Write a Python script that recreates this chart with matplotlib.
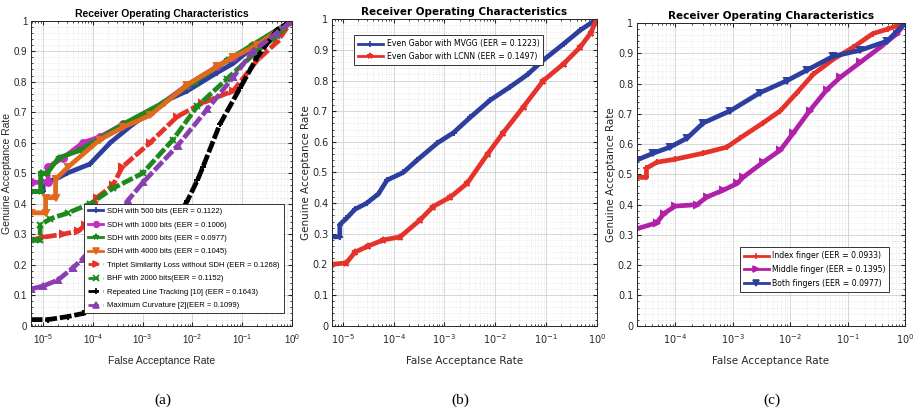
import numpy as np
import matplotlib
matplotlib.use("Agg")
import matplotlib.pyplot as plt
from matplotlib import font_manager
from matplotlib.ticker import LogLocator, MultipleLocator, NullFormatter

# ---- panel (a): log10(FAR) and GAR per curve ----
a_sdh500_x = [-5.25, -5.0, -5.0, -4.75, -4.52, -4.06, -3.65, -3.2, -2.85, -2.5, -2.1, -1.5, -1.18, -0.7, -0.3, 0.0]
a_sdh500_y = [0.44, 0.44, 0.47, 0.48, 0.50, 0.53, 0.60, 0.66, 0.70, 0.74, 0.77, 0.83, 0.86, 0.925, 0.96, 1.0]
a_sdh1000_x = [-5.25, -4.9, -4.9, -4.6, -4.2, -3.85, -3.4, -2.85, -2.1, -1.5, -1.18, -0.7, 0.0]
a_sdh1000_y = [0.47, 0.47, 0.52, 0.55, 0.60, 0.62, 0.66, 0.70, 0.79, 0.85, 0.88, 0.92, 1.0]
a_sdh2000_x = [-5.25, -5.05, -5.05, -4.92, -4.69, -4.26, -3.9, -3.4, -2.6, -1.95, -1.3, -0.8, 0.0]
a_sdh2000_y = [0.44, 0.44, 0.50, 0.50, 0.55, 0.575, 0.61, 0.66, 0.73, 0.80, 0.87, 0.92, 1.0]
a_sdh4000_x = [-5.25, -4.95, -4.95, -4.75, -4.75, -4.5, -3.86, -3.4, -2.85, -2.1, -1.5, -1.18, -0.7, 0.0]
a_sdh4000_y = [0.37, 0.37, 0.42, 0.42, 0.48, 0.52, 0.61, 0.65, 0.69, 0.79, 0.85, 0.88, 0.92, 1.0]
a_triplet_x = [-5.25, -5.0, -4.6, -4.3, -4.15, -4.0, -3.92, -3.6, -3.41, -2.85, -2.31, -1.8, -1.18, -0.7, -0.3, 0.0]
a_triplet_y = [0.28, 0.29, 0.30, 0.31, 0.33, 0.36, 0.42, 0.46, 0.52, 0.60, 0.685, 0.73, 0.77, 0.87, 0.93, 1.0]
a_bhf_x = [-5.25, -5.06, -5.06, -4.86, -4.5, -4.05, -3.6, -3.0, -2.39, -1.9, -1.3, -0.7, -0.3, 0.0]
a_bhf_y = [0.28, 0.28, 0.33, 0.35, 0.37, 0.40, 0.45, 0.50, 0.61, 0.72, 0.81, 0.90, 0.95, 1.0]
a_rlt_x = [-5.25, -4.9, -4.5, -4.2, -3.98, -3.5, -2.9, -2.5, -2.1, -1.9, -1.79, -1.45, -1.04, -0.7, -0.3, 0.0]
a_rlt_y = [0.02, 0.02, 0.03, 0.04, 0.05, 0.10, 0.20, 0.30, 0.41, 0.477, 0.52, 0.66, 0.78, 0.88, 0.97, 1.0]
a_maxcurv_x = [-5.25, -5.0, -4.7, -4.4, -4.2, -4.05, -3.86, -3.3, -2.99, -2.3, -1.7, -1.18, -0.78, -0.3, 0.0]
a_maxcurv_y = [0.12, 0.13, 0.15, 0.19, 0.22, 0.25, 0.28, 0.41, 0.47, 0.59, 0.71, 0.815, 0.90, 0.96, 1.0]

a_labels = ["SDH with 500 bits (EER = 0.1122)", "SDH with 1000 bits (EER = 0.1006)",
            "SDH with 2000 bits (EER = 0.0977)", "SDH with 4000 bits (EER = 0.1045)",
            "Triplet Similarity Loss without SDH (EER = 0.1268)", "BHF with 2000 bits(EER = 0.1152)",
            "Repeated Line Tracking [10] (EER = 0.1643)", "Maximum Curvature [2](EER = 0.1099)"]

# ---- panel (b) ----
b_mvgg_x = [-5.22, -5.06, -5.06, -4.93, -4.76, -4.53, -4.3, -4.13, -3.81, -3.54, -3.14, -2.82, -2.49, -2.1, -1.7, -1.36, -1.05, -0.65, -0.32, 0.0]
b_mvgg_y = [0.29, 0.29, 0.33, 0.35, 0.38, 0.40, 0.43, 0.475, 0.50, 0.54, 0.596, 0.63, 0.68, 0.736, 0.78, 0.82, 0.867, 0.92, 0.965, 1.0]
b_lcnn_x = [-5.22, -4.93, -4.76, -4.5, -4.2, -3.87, -3.48, -3.22, -2.88, -2.55, -2.15, -1.84, -1.44, -1.05, -0.65, -0.32, -0.12, 0.0]
b_lcnn_y = [0.20, 0.205, 0.24, 0.26, 0.28, 0.29, 0.345, 0.389, 0.42, 0.465, 0.56, 0.63, 0.715, 0.80, 0.855, 0.91, 0.955, 1.0]
b_labels = ["Even Gabor with MVGG (EER = 0.1223)", "Even Gabor with LCNN (EER = 0.1497)"]

# ---- panel (c) ----
c_index_x = [-4.67, -4.5, -4.5, -4.32, -4.0, -3.51, -3.1, -2.87, -2.47, -2.17, -1.88, -1.6, -1.25, -0.9, -0.56, -0.3, 0.0]
c_index_y = [0.49, 0.49, 0.52, 0.54, 0.55, 0.57, 0.59, 0.62, 0.67, 0.71, 0.77, 0.83, 0.88, 0.92, 0.965, 0.98, 1.0]
c_middle_x = [-4.67, -4.32, -4.2, -4.0, -3.62, -3.45, -3.16, -2.92, -2.82, -2.47, -2.17, -1.95, -1.66, -1.36, -1.13, -0.78, -0.43, -0.14, 0.0]
c_middle_y = [0.32, 0.34, 0.37, 0.395, 0.40, 0.425, 0.448, 0.47, 0.49, 0.54, 0.58, 0.635, 0.71, 0.78, 0.82, 0.87, 0.92, 0.965, 1.0]
c_both_x = [-4.67, -4.38, -4.09, -3.79, -3.51, -3.04, -2.52, -2.05, -1.7, -1.25, -0.78, -0.31, 0.0]
c_both_y = [0.547, 0.57, 0.59, 0.62, 0.67, 0.71, 0.77, 0.81, 0.845, 0.89, 0.91, 0.94, 1.0]
c_labels = ["Index finger (EER = 0.0933)", "Middle finger (EER = 0.1395)", "Both fingers (EER = 0.0977)"]

BLUE = "#2d3f9e"
RED = "#e5322b"
GREEN = "#1b8a1b"
ORANGE = "#e0691c"
MAGENTA = "#c02fc0"
PURPLE = "#8a3fb0"
TXT = "#262626"

# panel (a) uses a narrow font if there is one
names = {f.name for f in font_manager.fontManager.ttflist}
if "Liberation Sans Narrow" in names:
    narrow, leg_size = ["Liberation Sans Narrow", "DejaVu Sans"], 6.3
else:
    narrow, leg_size = ["Liberation Sans", "DejaVu Sans"], 5.5

fig = plt.figure(figsize=(9.19, 4.15), dpi=100)
axa = fig.add_axes([0.0334, 0.2152, 0.2843, 0.735])
axb = fig.add_axes([0.3609, 0.2152, 0.2884, 0.7383])
axc = fig.add_axes([0.6928, 0.2152, 0.2920, 0.7294])


def style(ax, xmin, family):
    ax.set_xscale("log")
    ax.set_xlim(10 ** xmin, 1)
    ax.set_ylim(0, 1)
    ax.yaxis.set_minor_locator(MultipleLocator(0.02))
    ax.set_yticks(np.arange(0, 1.01, 0.1))
    ax.set_yticklabels(["0", "0.1", "0.2", "0.3", "0.4", "0.5", "0.6", "0.7", "0.8", "0.9", "1"])
    ax.xaxis.set_major_locator(LogLocator(base=10, numticks=10))
    ax.xaxis.set_minor_locator(LogLocator(base=10, subs=np.arange(2, 10), numticks=20))
    ax.xaxis.set_minor_formatter(NullFormatter())
    ax.grid(True, which="major", color="#d0d0d0", lw=0.6)
    ax.grid(True, which="minor", color="#dcdcdc", lw=0.5, ls=":")
    ax.set_axisbelow(True)
    ax.tick_params(which="both", direction="in", top=True, right=True, colors=TXT,
                   labelsize=7, pad=2.5)
    ax.tick_params(axis="x", which="major", pad=5)
    ax.tick_params(which="major", length=3)
    ax.tick_params(which="minor", length=1.5)
    for lab in ax.get_xticklabels() + ax.get_yticklabels():
        lab.set_family(family)
    for s in ax.spines.values():
        s.set_color(TXT)
        s.set_linewidth(0.7)
    ax.set_title("Receiver Operating Characteristics", fontsize=7.5, fontweight="bold",
                 family=family, pad=3)
    ax.set_xlabel("False Acceptance Rate", fontsize=7.5, family=family, color=TXT, labelpad=7)
    ax.set_ylabel("Genuine Acceptance Rate", fontsize=7.5, family=family, color=TXT, labelpad=1)


def curve(ax, xs, ys, color, marker, ls, label):
    far = 10 ** np.array(xs)
    ax.plot(far, ys, color=color, lw=3.4, ls=ls, solid_joinstyle="round", dashes=(2.5, 0.6) if ls == "--" else (None, None))
    ax.plot(far, ys, color=color, lw=0, marker=marker, ms=5, mew=1.4)
    return ax.plot([], [], color=color, lw=2, ls=ls, marker=marker, ms=4, mew=1.2, label=label)[0]


# panel (a)
style(axa, -5.25, narrow)
a_curves = [(a_sdh500_x, a_sdh500_y, BLUE, "+", "-"),
            (a_sdh1000_x, a_sdh1000_y, MAGENTA, "o", "-"),
            (a_sdh2000_x, a_sdh2000_y, GREEN, "*", "-"),
            (a_sdh4000_x, a_sdh4000_y, ORANGE, "v", "-"),
            (a_triplet_x, a_triplet_y, RED, ">", "--"),
            (a_bhf_x, a_bhf_y, GREEN, "x", "--"),
            (a_rlt_x, a_rlt_y, "black", "+", "--"),
            (a_maxcurv_x, a_maxcurv_y, PURPLE, "^", "--")]
handles = []
for (xs, ys, col, mk, ls), lab in zip(a_curves, a_labels):
    handles.append(curve(axa, xs, ys, col, mk, ls, lab))
leg = axa.legend(handles=handles, loc="lower right", bbox_to_anchor=(0.975, 0.035),
                 prop={"family": narrow, "size": leg_size}, fancybox=False, framealpha=1,
                 edgecolor="#333333", handlelength=2.0, labelspacing=0.8, borderpad=0.55,
                 handletextpad=0.5, borderaxespad=0.2)
leg.get_frame().set_linewidth(0.7)

# panel (b)
dv = ["DejaVu Sans"]
style(axb, -5.22, dv)
hb = [curve(axb, b_mvgg_x, b_mvgg_y, BLUE, "+", "-", b_labels[0]),
      curve(axb, b_lcnn_x, b_lcnn_y, RED, "*", "-", b_labels[1])]
leg = axb.legend(handles=hb, loc="upper left", bbox_to_anchor=(0.07, 0.96),
                 prop={"family": dv, "size": 5.6}, fancybox=False, framealpha=1,
                 edgecolor="#333333", handlelength=3.2, labelspacing=0.5, borderpad=0.5,
                 handletextpad=0.5)
leg.get_frame().set_linewidth(0.7)

# panel (c)
style(axc, -4.67, dv)
hc = [curve(axc, c_index_x, c_index_y, RED, "+", "-", c_labels[0]),
      curve(axc, c_middle_x, c_middle_y, "#b020a8", ">", "-", c_labels[1]),
      curve(axc, c_both_x, c_both_y, BLUE, "v", "-", c_labels[2])]
leg = axc.legend(handles=hc, loc="lower right", bbox_to_anchor=(0.955, 0.1),
                 prop={"family": dv, "size": 5.6}, fancybox=False, framealpha=1,
                 edgecolor="#333333", handlelength=3.2, labelspacing=0.6, borderpad=0.5,
                 handletextpad=0.4)
leg.get_frame().set_linewidth(0.7)

for x, t in [(0.177, "(a)"), (0.5005, "(b)"), (0.840, "(c)")]:
    fig.text(x, 0.036, t, ha="center", va="center", fontsize=11, family="Liberation Serif")

fig.savefig("out.png", dpi=100)
